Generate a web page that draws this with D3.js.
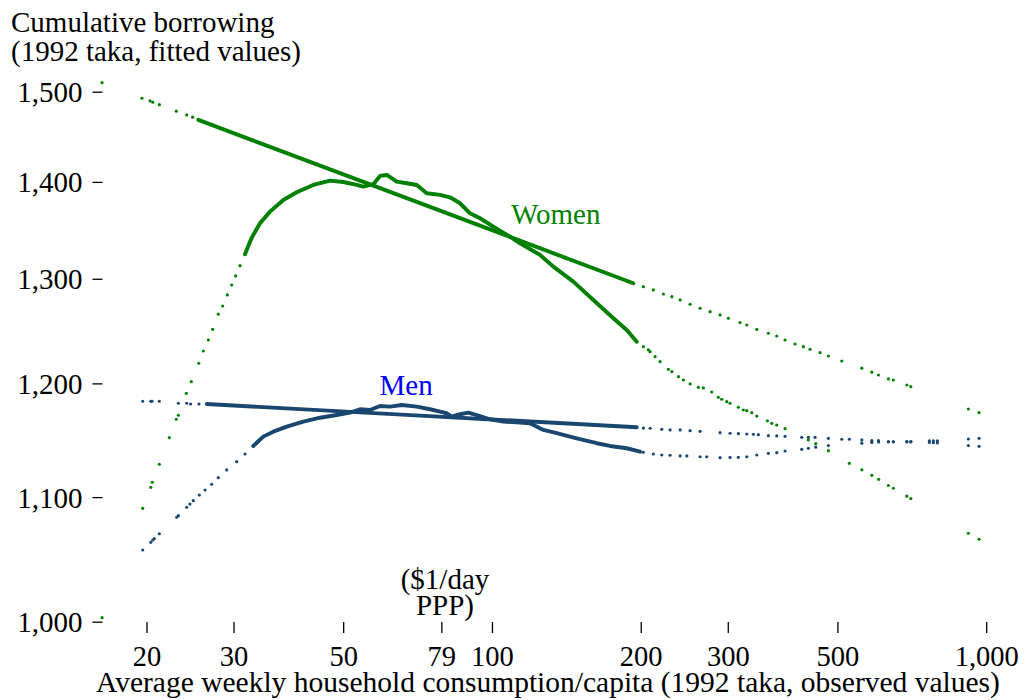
<!DOCTYPE html>
<html><head><meta charset="utf-8">
<script src="https://cdn.jsdelivr.net/npm/d3@7"></script>
<style>
body{margin:0;background:#fff}
svg{display:block;background:#fff}
text{font-family:"Liberation Serif","Times New Roman",serif}
</style>
</head><body>
<svg id="chart" width="1033" height="700"></svg>
<script>
// ---- tick values / labels ----
const xTicks = [20, 30, 50, 79, 100, 200, 300, 500, 1000];
const xTickLabels = ["20", "30", "50", "79", "100", "200", "300", "500", "1,000"];
const yTicks = [1000, 1100, 1200, 1300, 1400, 1500];

// ---- Women: nonparametric fit (consumption, borrowing) ----
const womenCurveDotsLeft = [[19.65,1090.6],[20.40,1108.3],[20.55,1112.6],[21.23,1128.0],[22.24,1151.2],[22.98,1167.5],[23.20,1171.1],[24.08,1190.9],[24.64,1201.6],[25.51,1218.6],[26.06,1230.1],[26.68,1240.5],[27.22,1250.7],[27.94,1265.2],[28.52,1273.2],[29.14,1284.0],[29.74,1293.8],[30.30,1302.8],[30.92,1313.1],[31.65,1324.6]];
const womenCurveDense = [[31.65,1324.6],[32.39,1337.4],[32.89,1344.3],[33.94,1356.4],[35.56,1368.5],[37.83,1380.8],[40.27,1388.9],[43.51,1396.7],[47.02,1401.3],[50.03,1399.9],[53.26,1396.7],[54.92,1394.9],[57.54,1397.5],[59.36,1406.4],[61.25,1407.4],[64.17,1400.2],[67.23,1398.5],[70.44,1396.7],[73.80,1387.9],[78.51,1386.1],[82.25,1383.6],[86.17,1377.3],[90.28,1366.8],[94.59,1361.6],[100.64,1352.9],[108.78,1342.5],[113.97,1335.8],[125.12,1323.9],[133.10,1312.1],[146.08,1297.1],[160.39,1279.1],[176.07,1261.3],[187.37,1250.1],[196.31,1238.9]];
const womenCurveDotsRight = [[202.45,1234.2],[207.2,1231.1],[208.9,1229.5],[213.8,1224.8],[218.9,1220.1],[227.5,1213.0],[231.2,1210.8],[238.4,1206.2],[244.0,1203.1],[251.7,1199.5],[261.6,1196.4],[267.8,1195.8],[278.4,1192.1],[287.1,1187.3],[291.7,1185.5],[298.6,1183.3],[303.2,1181.9],[315.2,1178.3],[322.6,1175.8],[327.8,1175.2],[335.5,1173.4],[343.4,1170.4],[360.8,1166.2],[368.3,1163.9],[376.9,1162.4],[391.8,1159.1],[436.7,1149.2],[452.0,1145.9],[479.4,1139.8],[528.7,1128.8],[560.2,1123.2],[586.9,1118.5],[605.8,1115.1],[634.1,1109.8],[649.0,1107.5],[690.9,1100.8],[703.9,1098.8],[920.3,1070.0],[967.3,1065.1]];

// ---- Women: linear fit ----
const womenFitDotsLeft = [[19.58,1492.5],[20.33,1489.5],[20.59,1488.0],[21.23,1485.2],[22.98,1477.8],[24.12,1473.6],[24.80,1471.0]];
const womenFitDense = [[25.46,1468.0],[70.44,1378.7],[193.2,1295.5]];
const womenFitDotsRight = [[202.45,1292.1],[212.1,1288.9],[222.3,1284.9],[231.2,1282.3],[240.3,1279.1],[251.7,1274.9],[263.7,1271.0],[276.3,1267.7],[289.4,1264.5],[300.8,1261.3],[317.7,1257.1],[327.8,1254.8],[343.4,1250.7],[362.5,1246.9],[376.9,1244.3],[391.8,1240.5],[410.5,1236.7],[426.6,1234.2],[440.2,1231.7],[461.2,1228.5],[479.4,1225.4],[510.3,1220.7],[560.2,1214.0],[586.9,1210.3],[605.3,1207.7],[634.1,1204.1],[649.0,1203.1],[690.9,1198.5],[703.9,1197.0],[920.3,1176.7],[967.3,1173.4]];
const womenEdgeDots = [[16.26,1510.4],[16.26,1003.1]];

// ---- Men: linear fit ----
const menFitDotsLeft = [[19.65,1183.7],[20.40,1183.7],[20.52,1183.7],[21.23,1183.7],[23.20,1181.9],[24.12,1181.9],[24.57,1181.2],[25.54,1181.2]];
const menFitDense = [[26.48,1181.2],[71.53,1170.8],[196.31,1160.4]];
const menFitDotsRight = [[202.45,1159.7],[208.9,1159.5],[220.6,1158.6],[229.3,1158.0],[240.3,1158.0],[251.7,1157.4],[263.7,1156.8],[289.4,1155.6],[303.2,1155.1],[315.2,1154.7],[327.8,1154.4],[338.0,1154.2],[345.9,1153.8],[362.5,1152.9],[376.9,1152.7],[391.8,1152.4],[423.4,1151.5],[436.7,1151.5],[450.5,1151.5],[479.4,1150.6],[510.3,1149.8],[528.7,1149.8],[560.2,1149.2],[586.9,1148.5],[605.3,1148.5],[634.1,1147.6],[649.0,1147.6],[690.9,1147.4],[703.9,1147.4],[767.4,1147.0],[781.9,1146.8],[796.6,1146.5],[920.3,1144.2],[967.3,1143.6]];

// ---- Men: nonparametric fit ----
const menCurveDotsLeft = [[19.65,1056.4],[20.40,1062.6],[20.59,1064.5],[20.74,1065.6],[21.23,1069.6],[23.02,1083.2],[23.20,1084.5],[24.12,1091.5],[24.49,1094.2],[24.87,1097.0],[25.58,1101.8],[26.27,1106.0],[27.10,1110.9],[27.94,1116.5],[29.06,1123.1],[30.45,1130.2],[31.65,1136.9],[32.89,1143.9]];
const menCurveDense = [[32.89,1143.9],[34.46,1152.1],[36.11,1156.5],[38.44,1160.9],[41.53,1165.4],[44.89,1168.9],[48.52,1171.3],[51.62,1173.4],[54.08,1176.5],[56.66,1175.8],[59.36,1179.4],[62.20,1178.8],[65.68,1180.3],[70.44,1178.8],[74.94,1176.5],[78.51,1174.3],[81.00,1172.9],[82.91,1169.8],[86.17,1172.0],[89.57,1173.4],[93.15,1171.3],[99.10,1167.5],[105.4,1165.4],[113.97,1164.5],[119.4,1163.9],[127.06,1158.0],[135.23,1155.1],[148.4,1150.6],[162.9,1146.3],[173.4,1143.9],[187.37,1141.9],[199.3,1138.9]];
const menCurveDotsRight = [[202.45,1138.4],[212.1,1136.9],[220.6,1136.0],[229.3,1135.8],[240.3,1135.2],[247.9,1135.2],[263.7,1134.5],[272.0,1134.5],[289.4,1133.7],[303.2,1133.9],[315.2,1134.0],[327.8,1134.5],[343.4,1136.0],[362.5,1137.5],[376.9,1138.0],[391.8,1139.5],[423.4,1141.0],[436.7,1141.9],[452.0,1142.8],[479.4,1144.2],[560.2,1146.3],[586.9,1147.0],[605.8,1147.4],[634.1,1147.6],[649.0,1147.6],[690.9,1147.8],[703.9,1147.8],[767.4,1148.3],[781.9,1148.3],[796.6,1148.3],[920.3,1150.0],[967.3,1150.6]];

// ---- text ----
const titleLines = ["Cumulative borrowing", "(1992 taka, fitted values)"];
const xAxisTitle = "Average weekly household consumption/capita (1992 taka, observed values)";
const povertyNote = ["($1/day", "PPP)"];

// ---- colours ----
const GREEN = "#008000";
const NAVY = "#1a476f";
const BLUE = "#0000ff";

const svg = d3.select("#chart");
const FS = 29;
const SERIF = '"Liberation Serif","Times New Roman",serif';

const x = d3.scaleLog().domain([20, 1000]).range([146.5, 986.2]);
const y = d3.scaleLog().domain([1000, 1500]).range([621.7, 91.7]);

// axes
const xAxis = svg.append("g").attr("transform", "translate(0,622)")
  .call(d3.axisBottom(x).tickValues(xTicks).tickFormat((d, i) => xTickLabels[i]).tickSize(11));
xAxis.select(".domain").remove();
xAxis.selectAll(".tick line").attr("stroke", "#000").attr("stroke-width", 1.3);
xAxis.selectAll(".tick text").attr("font-size", 28.5).attr("font-family", SERIF)
  .attr("fill", "#000").attr("y", 43.5).attr("dy", null);

const yAxis = svg.append("g").attr("transform", "translate(102.5,0)")
  .call(d3.axisLeft(y).tickValues(yTicks).tickFormat(d3.format(",")).tickSize(10).tickPadding(10));
yAxis.select(".domain").remove();
yAxis.selectAll(".tick line").attr("stroke", "#000").attr("stroke-width", 1.3);
yAxis.selectAll(".tick text").attr("font-size", FS).attr("font-family", SERIF)
  .attr("fill", "#000").attr("dy", 10);

// marks
const line = d3.line().x(d => x(d[0])).y(d => y(d[1])).curve(d3.curveLinear);
function dense(data, color) {
  svg.append("path").datum(data).attr("d", line)
    .attr("fill", "none").attr("stroke", color).attr("stroke-width", 3.9)
    .attr("stroke-linejoin", "round").attr("stroke-linecap", "round");
}
function dots(data, color) {
  svg.append("g").selectAll("circle").data(data).join("circle")
    .attr("cx", d => x(d[0])).attr("cy", d => y(d[1])).attr("r", 1.6).attr("fill", color);
}

dense(menFitDense, NAVY);
dots(menFitDotsLeft, NAVY); dots(menFitDotsRight, NAVY);
dense(menCurveDense, NAVY);
dots(menCurveDotsLeft, NAVY); dots(menCurveDotsRight, NAVY);

dense(womenFitDense, GREEN);
dots(womenFitDotsLeft, GREEN); dots(womenFitDotsRight, GREEN);
dense(womenCurveDense, GREEN);
dots(womenCurveDotsLeft, GREEN); dots(womenCurveDotsRight, GREEN);
dots(womenEdgeDots, GREEN);

// text
svg.append("text").attr("x", 11).attr("y", 31.5).attr("font-size", FS).attr("fill", "#000").text(titleLines[0]);
svg.append("text").attr("x", 11).attr("y", 61).attr("font-size", FS).attr("fill", "#000").text(titleLines[1]);
svg.append("text").attr("x", 548).attr("y", 692).attr("text-anchor", "middle").attr("font-size", 29.5).attr("fill", "#000").text(xAxisTitle);
svg.append("text").attr("x", 511).attr("y", 224).attr("font-size", FS).attr("fill", GREEN).text("Women");
svg.append("text").attr("x", 379.5).attr("y", 395).attr("font-size", FS).attr("fill", BLUE).text("Men");
svg.append("text").attr("x", 445).attr("y", 588.5).attr("text-anchor", "middle").attr("font-size", FS).attr("fill", "#000").text(povertyNote[0]);
svg.append("text").attr("x", 445).attr("y", 615).attr("text-anchor", "middle").attr("font-size", FS).attr("fill", "#000").text(povertyNote[1]);
</script>
</body></html>
